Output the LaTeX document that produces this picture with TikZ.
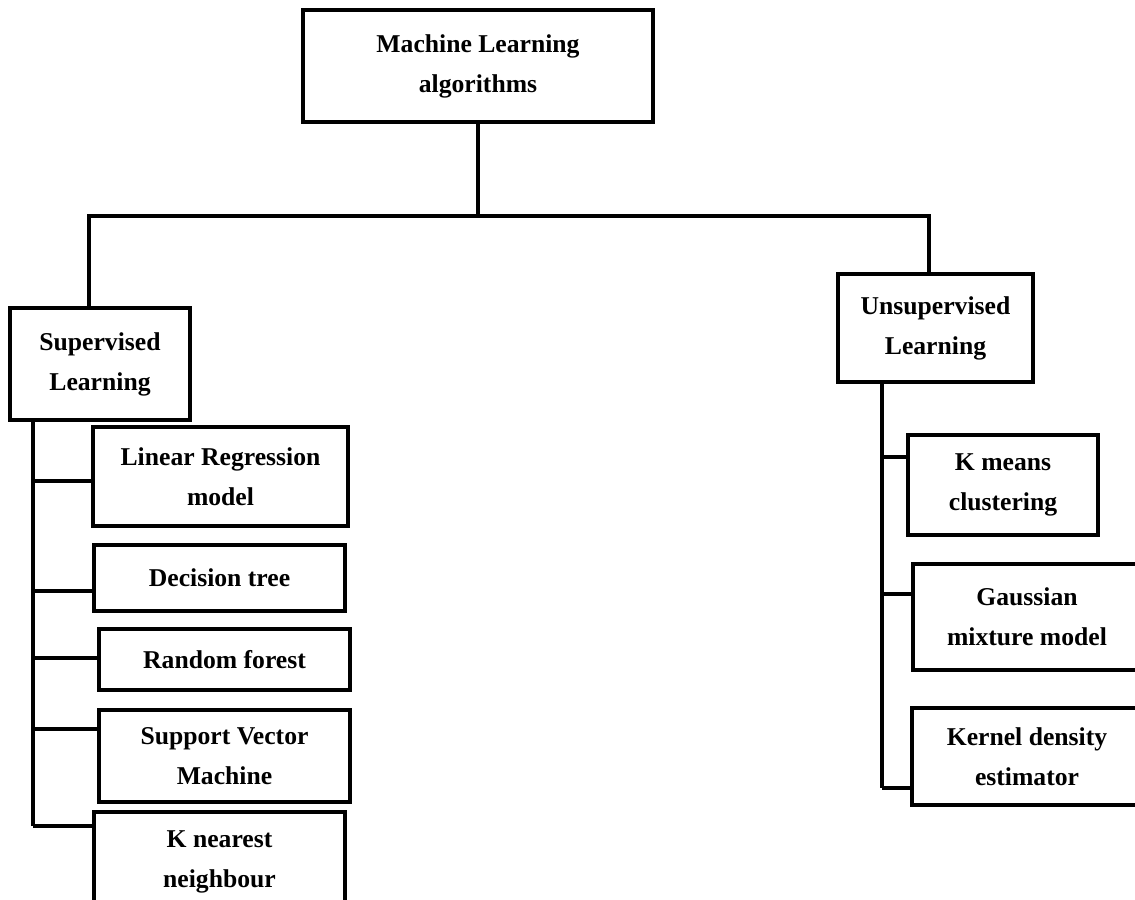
\documentclass[tikz,border=0pt]{standalone}
\usepackage{fontspec}
\setmainfont{Liberation Serif}
\usetikzlibrary{positioning}

\begin{document}
\begin{tikzpicture}[x=0.02cm,y=-0.02cm,line width=2.2pt,
        box/.style={draw,rectangle,align=center,inner sep=0pt,font=\fontsize{14.6}{22.8}\selectfont\bfseries},
        size/.style 2 args={minimum width=#1cm,minimum height=#2cm}]
            \clip (0,0) rectangle (1135,899);

            \node   [box,size={7.0}{2.24}]      (1)  at (478,66)     {Machine Learning\\algorithms};
            \node   [box,size={3.6}{2.24}]      (2)  at (100,364)    {Supervised\\Learning};
            \node   [box,size={3.9}{2.16}]      (3)  at (935.5,328)  {Unsupervised\\Learning};

            \node   [box,size={5.1}{1.98}]      (4)  at (220.5,476.5) {Linear Regression\\model};
            \node   [box,size={5.02}{1.32}]     (5)  at (219.5,578)  {Decision tree};
            \node   [box,size={5.02}{1.22}]     (6)  at (224.5,659.5) {Random forest};
            \node   [box,size={5.02}{1.84}]     (7)  at (224.5,756)  {Support Vector\\Machine};
            \node   [box,size={5.02}{2.0}]      (8)  at (219.5,862)  {K nearest\\neighbour};

            \node   [box,size={3.8}{2.0}]       (9)  at (1003,485)   {K means\\clustering};
            \node   [box,size={4.56}{2.12}]     (10) at (1027,617)   {Gaussian\\mixture model};
            \node   [box,size={4.6}{1.94}]      (11) at (1027,756.5) {Kernel density\\estimator};

            % top bus
            \coordinate (jl) at (89,216);
            \coordinate (jr) at (929,216);
            \draw   (1.south) -- (1.south |- jl);
            \draw   (2.north -| jl) -- (jl) -- (jr) -- (3.north -| jr);

            % trunks
            \coordinate (lt) at (33,826);
            \coordinate (rt) at (882,788);
            \draw   (2.south -| lt) -- (lt);
            \draw   (3.south -| rt) -- (rt);
            \foreach \n/\y in {4/481,5/591,6/658,7/729,8/826}
                \draw (lt |- 0,\y) -- (\n.west |- 0,\y);
            \foreach \n/\y in {9/457,10/594,11/788}
                \draw (rt |- 0,\y) -- (\n.west |- 0,\y);
        \end{tikzpicture}
\end{document}
